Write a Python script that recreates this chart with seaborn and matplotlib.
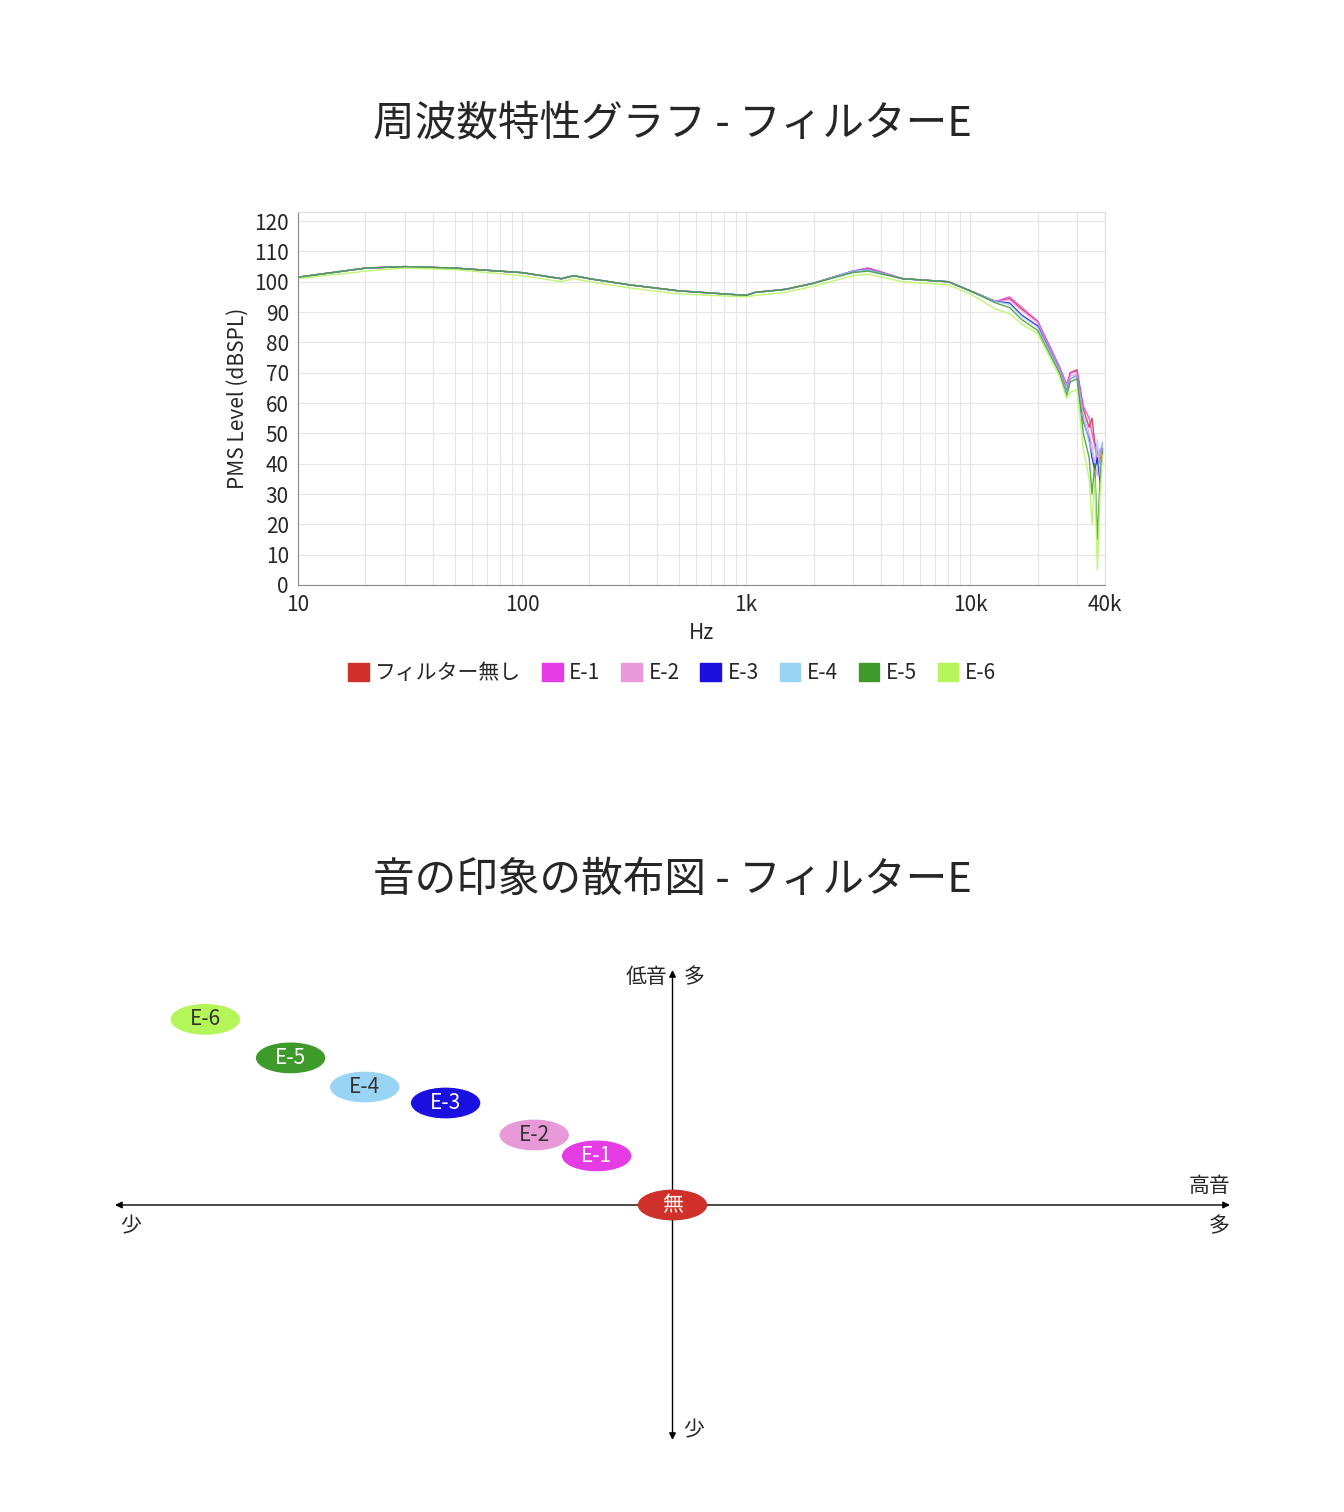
import numpy as np
import matplotlib
matplotlib.use("Agg")
import matplotlib.pyplot as plt
import seaborn as sns
import pandas as pd
from matplotlib.patches import Ellipse

sns.set_style("white")
plt.rcParams['font.family'] = ['Noto Sans CJK JP', 'DejaVu Sans']

# frequency response knots (Hz, dBSPL)
freq = [10, 20, 30, 50, 100, 150, 170, 200, 300, 500, 1000, 1100, 1500, 2000, 3000, 3500,
        5000, 8000, 10000, 13000, 15000, 17000, 20000, 25000, 27000, 28000, 30000, 32000,
        34000, 35000, 36000, 37000, 38000, 39000]
series_names = ["フィルター無し", "E-1", "E-2", "E-3", "E-4", "E-5", "E-6"]
series_colors = ["#d0302a", "#e63ce6", "#e89ad8", "#1a10e0", "#9ad4f4", "#3e9a2a", "#b4f55a"]
lvl_none = [101.5, 104.5, 105, 104.5, 103, 101, 102, 101, 99, 97, 95.5, 96.5, 97.5, 99.5, 103.5, 104.5,
            101, 100, 97, 93.5, 94.5, 91, 87, 72, 66, 70, 71, 58, 52, 55, 47, 44, 40, 47]
lvl_e1 = [101.5, 104.5, 105, 104.5, 103, 101, 102, 101, 99, 97, 95.5, 96.5, 97.5, 99.5, 103.5, 104.5,
          101, 100, 97, 93.5, 95, 91.5, 87, 72, 66, 70, 70.5, 59, 55, 50, 46, 40, 44, 46]
lvl_e2 = [101.5, 104.5, 105, 104.5, 103, 101, 102, 101, 99, 97, 95.5, 96.5, 97.5, 99.5, 103.5, 104,
          101, 100, 97, 93.5, 94, 90.5, 86.5, 71.5, 65.5, 69, 69.5, 56, 50, 46, 40, 36, 45, 46]
lvl_e3 = [101.5, 104.5, 105, 104.5, 103, 101, 102, 101, 99, 97, 95.5, 96.5, 97.5, 99.5, 103.5, 104,
          101, 100, 97, 93.5, 93, 89, 85.5, 71, 64, 68, 69, 54, 48, 42, 38, 42, 34, 45]
lvl_e4 = [101.5, 104.5, 105, 104.5, 103, 101, 102, 101, 99, 97, 95.5, 96.5, 97.5, 99.5, 103.5, 104,
          101, 100, 97, 93.5, 92.5, 88.5, 85, 71, 63.5, 68, 69, 55, 47, 44, 40, 48, 36, 47]
lvl_e5 = [101.5, 104.5, 105, 104.5, 103, 101, 102, 101, 99, 97, 95.5, 96.5, 97.5, 99.5, 103, 103.5,
          101, 100, 97, 93, 91.5, 87.5, 84, 70, 62.5, 67, 68, 50, 42, 30, 40, 15, 35, 44]
lvl_e6 = [101, 103.5, 104.5, 104, 102, 100, 101, 100, 98, 96, 95, 95.5, 96.5, 98.5, 102, 102.5,
          100, 99, 96, 91, 89.5, 86, 83, 69, 61.5, 63.5, 64.5, 45, 35, 20, 35, 5, 30, 43]
levels = [lvl_none, lvl_e1, lvl_e2, lvl_e3, lvl_e4, lvl_e5, lvl_e6]

# impression scatter (bass amount vs treble amount)
imp_labels = ["無", "E-1", "E-2", "E-3", "E-4", "E-5", "E-6"]
imp_treble = [0.0, -0.136, -0.248, -0.407, -0.552, -0.685, -0.838]
imp_bass = [0.0, 0.209, 0.298, 0.434, 0.502, 0.626, 0.79]
imp_text = ["white", "white", "#333333", "white", "#333333", "white", "#333333"]

fig = plt.figure(figsize=(13.44, 15.12), dpi=100)

# ---- frequency response ----
fig.text(0.5, 1 - 125 / 1512, "周波数特性グラフ - フィルターE", ha="center", va="center", fontsize=30)
ax = fig.add_axes([298 / 1344, 1 - 585 / 1512, 807 / 1344, 373 / 1512])
df = pd.concat([pd.DataFrame({"Hz": freq, "dB": lv, "s": nm}) for nm, lv in zip(series_names, levels)])
sns.lineplot(data=df, x="Hz", y="dB", hue="s", palette=series_colors, ax=ax, linewidth=1.0,
             legend=False, alpha=0.85)
ax.set_xscale("log")
ax.set_xlim(10, 40000)
ax.set_ylim(0, 123)
ax.set_yticks(range(0, 121, 10))
ax.set_xticks([10, 100, 1000, 10000, 40000])
ax.set_xticklabels(["10", "100", "1k", "10k", "40k"])
ax.tick_params(labelsize=15, length=3)
ax.grid(True, which="both", color="#e6e6e6", linewidth=0.8)
for s in ["top", "right"]:
    ax.spines[s].set_color("#dddddd")
ax.spines["left"].set_color("#888888")
ax.spines["bottom"].set_color("#888888")
ax.set_xlabel("Hz", fontsize=15)
ax.set_ylabel("PMS Level (dBSPL)", fontsize=15)
handles = [plt.Rectangle((0, 0), 1, 1, color=c) for c in series_colors]
fig.legend(handles, series_names, loc="center", bbox_to_anchor=(0.5, 1 - 673 / 1512), ncol=7,
           frameon=False, fontsize=15, handlelength=1.0, handleheight=1.0, handletextpad=0.3,
           columnspacing=1.0)

# ---- impression scatter ----
fig.text(0.5, 1 - 880 / 1512, "音の印象の散布図 - フィルターE", ha="center", va="center", fontsize=30)
ax2 = fig.add_axes([115 / 1344, 1 - 1440 / 1512, 1115 / 1344, 470 / 1512])
ax2.set_xlim(-1, 1)
ax2.set_ylim(-1, 1)
ax2.axis("off")
ap = dict(arrowstyle="<|-|>", color="black", lw=1, mutation_scale=10, shrinkA=0, shrinkB=0)
ax2.annotate("", xy=(-1, 0), xytext=(1, 0), arrowprops=ap)
ax2.annotate("", xy=(0, -1), xytext=(0, 1), arrowprops=ap)
ax2.text(-0.01, 0.97, "低音", ha="right", va="center", fontsize=15)
ax2.text(0.02, 0.97, "多", ha="left", va="center", fontsize=15)
ax2.text(0.02, -0.96, "少", ha="left", va="center", fontsize=15)
ax2.text(1.0, 0.08, "高音", ha="right", va="center", fontsize=15)
ax2.text(1.0, -0.09, "多", ha="right", va="center", fontsize=15)
ax2.text(-0.99, -0.09, "少", ha="left", va="center", fontsize=15)
for x, y, lab, c, tc in zip(imp_treble, imp_bass, imp_labels, series_colors, imp_text):
    ax2.add_patch(Ellipse((x, y), 0.122, 0.125, color=c, zorder=3))
    ax2.text(x, y, lab, ha="center", va="center", fontsize=15, color=tc, zorder=4)

fig.savefig("out.png", dpi=100, facecolor="white")
